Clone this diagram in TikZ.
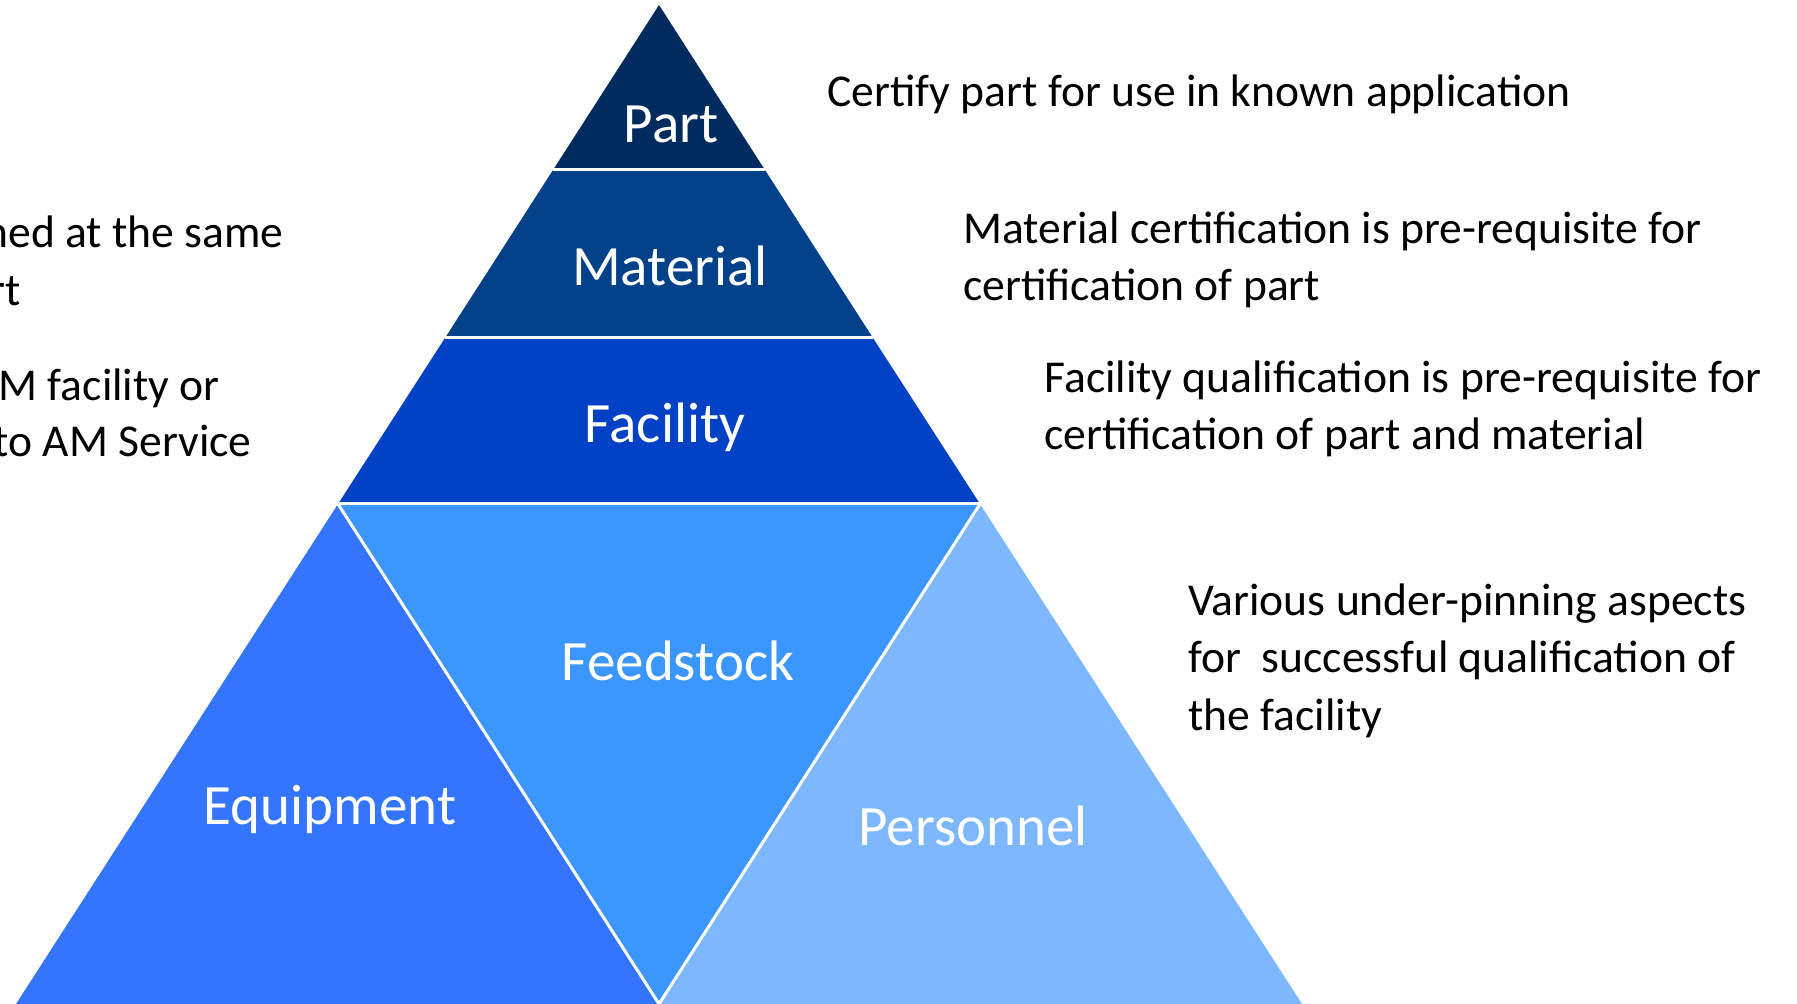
\documentclass[tikz,border=0pt]{standalone}
\usepackage{fontspec}
\setmainfont{Carlito}
\usepackage{tikz}

\definecolor{partblue}{HTML}{002B5E}
\definecolor{materialblue}{HTML}{004189}
\definecolor{facilityblue}{HTML}{0041C6}
\definecolor{feedblue}{HTML}{3C96FF}
\definecolor{equipblue}{HTML}{3375FF}
\definecolor{personblue}{HTML}{7DB8FF}

\begin{document}
\begin{tikzpicture}[x=0.5pt, y=-0.5pt,
    layer/.style={text=white, inner sep=0pt, font=\fontsize{28.5}{34}\selectfont},
    note/.style={text=black, inner sep=0pt, align=left, font=\fontsize{22.8}{28.75}\selectfont},
    sep/.style={draw=white, line width=1.5pt}]
  \useasboundingbox (0,0) rectangle (1797,1004);
  \clip (0,0) rectangle (1797,1004);
  % corners of the pyramid
  \coordinate (apex) at (659,5);
  \coordinate (pl) at (553,170);
  \coordinate (pr) at (765,170);
  \coordinate (ml) at (445,338);
  \coordinate (mr) at (873,338);
  \coordinate (fl) at (338,504);
  \coordinate (fr) at (980,504);
  \coordinate (bl) at (16,1004);
  \coordinate (bm) at (659,1004);
  \coordinate (br) at (1302,1004);

  \fill[partblue] (apex) -- (pr) -- (pl) -- cycle;
  \fill[materialblue] (pl) -- (pr) -- (mr) -- (ml) -- cycle;
  \fill[facilityblue] (ml) -- (mr) -- (fr) -- (fl) -- cycle;
  \fill[equipblue] (fl) -- (bm) -- (bl) -- cycle;
  \fill[feedblue] (fl) -- (fr) -- (bm) -- cycle;
  \fill[personblue] (fr) -- (br) -- (bm) -- cycle;

  \draw[sep] (pl) -- (pr);
  \draw[sep] (ml) -- (mr);
  \draw[sep] (fl) -- (fr);
  \draw[sep] (fl) -- (bm) -- (fr);

  \node[layer, anchor=base] (part) at (671,143) {Part};
  \node[layer, anchor=base] (material) at (670,286) {Material};
  \node[layer, anchor=base] (facility) at (665,443) {Facility};
  \node[layer, anchor=base] (feedstock) at (678,680) {Feedstock};
  \node[layer, anchor=base] (equipment) at (330,824) {Equipment};
  \node[layer, anchor=base] (personnel) at (973,845) {Personnel};

  % multi-line notes sit on the baseline of their last line
  \node[note, anchor=base west] (partnote) at (827,107) {Certify part for use in known application};
  \node[note, anchor=base west] (materialnote) at (963,301) {Material certification is pre-requisite for\\certification of part};
  \node[note, anchor=base west] (facilitynote) at (1044,450) {Facility qualification is pre-requisite for\\certification of part and material};
  \node[note, anchor=base west] (basenote) at (1188,730) {Various under-pinning aspects\\for\ \ successful qualification of\\the facility};

  \node[note, anchor=base east] (lefta) at (284,248) {ned at the same};
  \node[note, anchor=base east] (leftb) at (21,306) {rt};
  \node[note, anchor=base east] (leftc) at (220,401) {AM facility or};
  \node[note, anchor=base east] (leftd) at (252,457) {to AM Service};
\end{tikzpicture}
\end{document}
